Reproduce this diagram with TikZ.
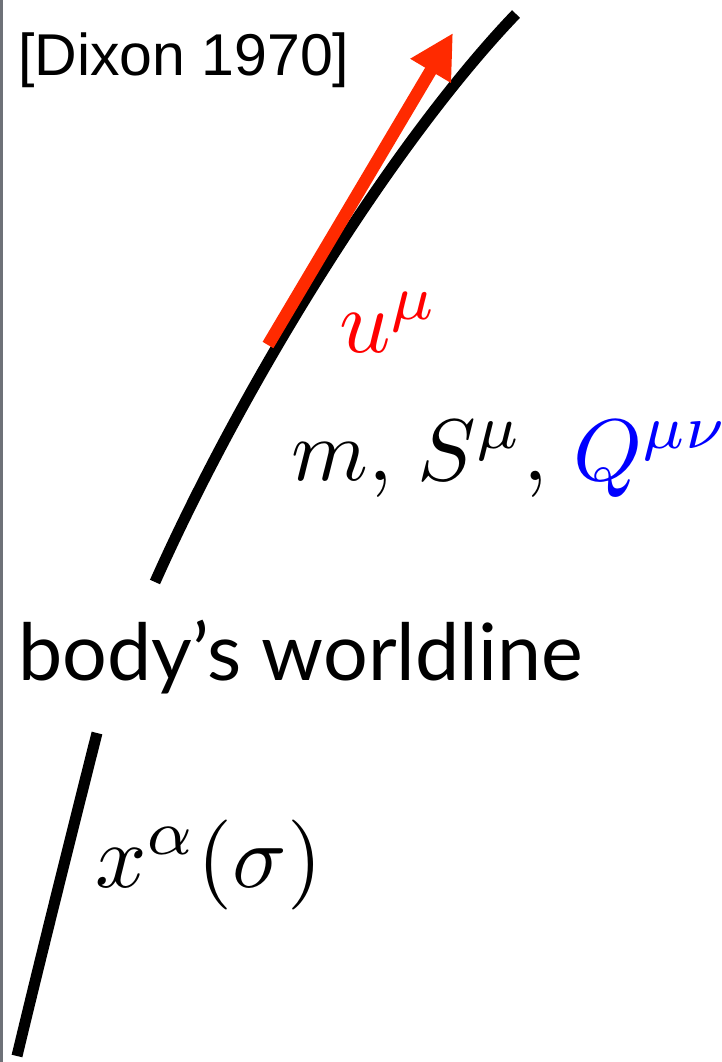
\documentclass[tikz,border=0pt]{standalone}
\usepackage{fontspec}
\usepackage{graphicx}
\usepackage{xcolor}
\usepackage{tikz}
\usetikzlibrary{arrows.meta}
\newfontfamily\refsans{Liberation Sans}
\newfontfamily\capsans{Lato}
\definecolor{velred}{HTML}{FF2A00}
\definecolor{rimgray}{HTML}{6E7178}
\newcommand{\symbig}[2][9]{\scalebox{#1}{$#2$}}

\begin{document}
\begin{tikzpicture}[x=1pt, y=-1pt,
  cite/.style={anchor=base west, inner sep=0pt, font=\refsans\fontsize{59}{61}\selectfont},
  caption/.style={anchor=base west, inner sep=0pt, font=\capsans\fontsize{79}{82}\selectfont},
  sym/.style={anchor=base west, inner sep=0pt, font=\fontsize{10}{12}\selectfont},
  wline/.style={line width=11pt, line cap=butt},
  vel/.style={line width=12.5pt, velred, line cap=butt, -{Triangle[length=44pt, width=44pt]}}
]
\useasboundingbox (0,0) rectangle (722,1062);
\draw[rimgray, line width=2.5pt] (1.25,0) -- (1.25,1062);
\coordinate (wtail) at (155,582);
\coordinate (whead) at (516,14);
\coordinate (vtail) at (268,345);
\coordinate (vtip) at (453,33);
\coordinate (xtop) at (97,733);
\coordinate (xbot) at (17,1056);
\draw[wline] (wtail) .. controls (245,380) and (395,140) .. (whead);
\draw[vel] (vtail) -- (vtip);
\draw[wline] (xtop) .. controls (70,840) and (40,960) .. (xbot);
\node[cite] (dixon) at (18,76) {[Dixon 1970]};
\node[sym, red] (vel) at (339,352) {\symbig{u^\mu}};
\node[sym] (charges) at (291,480) {\symbig[8.75]{m,\mskip2.3mu S^\mu,\mskip2.3mu{\color{blue}Q^{\mu\nu}}}};
\node[caption] (body) at (18,680) {body’s worldline};
\node[sym] (embed) at (95,887) {\symbig{x^\alpha(\sigma)}};
\end{tikzpicture}
\end{document}
